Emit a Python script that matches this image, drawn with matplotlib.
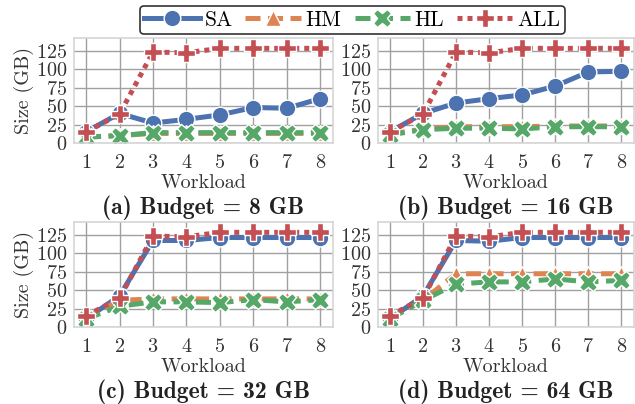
import matplotlib
matplotlib.use("Agg")
import matplotlib.pyplot as plt
import numpy as np

plt.rcParams['font.family'] = ['cmr10', 'DejaVu Serif']
plt.rcParams['axes.formatter.use_mathtext'] = True
plt.rcParams['mathtext.fontset'] = 'cm'

workloads = [1, 2, 3, 4, 5, 6, 7, 8]
series_names = ["SA", "HM", "HL", "ALL"]
panel_titles = ["(a) Budget = 8 GB", "(b) Budget = 16 GB",
                "(c) Budget = 32 GB", "(d) Budget = 64 GB"]

sa_8 = [15, 40, 27, 32, 38, 48, 47, 60]
hm_8 = [8, 10, 13, 13, 13, 13, 13, 13]
hl_8 = [8, 10, 14, 14, 14, 14, 14, 14]
all_8 = [15, 39, 123, 122, 128, 128, 128, 128]

sa_16 = [15, 40, 54, 60, 65, 77, 96, 97]
hm_16 = [12, 19, 22, 22, 22, 23, 23, 23]
hl_16 = [11, 18, 20, 20, 19, 22, 22, 22]
all_16 = [15, 39, 123, 122, 128, 128, 128, 128]

sa_32 = [11, 42, 117, 117, 121, 121, 121, 121]
hm_32 = [12, 36, 38, 38, 38, 38, 38, 38]
hl_32 = [11, 28, 34, 34, 33, 37, 34, 37]
all_32 = [15, 39, 123, 122, 128, 128, 128, 128]

sa_64 = [11, 42, 117, 116, 121, 121, 121, 121]
hm_64 = [12, 36, 72, 72, 72, 72, 72, 72]
hl_64 = [11, 36, 58, 61, 61, 65, 61, 63]
all_64 = [15, 39, 123, 122, 128, 128, 128, 128]

panels = [
    [sa_8, hm_8, hl_8, all_8],
    [sa_16, hm_16, hl_16, all_16],
    [sa_32, hm_32, hl_32, all_32],
    [sa_64, hm_64, hl_64, all_64],
]

colors = ["#4C72B0", "#DD8452", "#55A868", "#C44E52"]
styles = [
    dict(linestyle='-', marker='o', markersize=12),
    dict(linestyle=(0, (3, 1.5)), marker='^', markersize=12),
    dict(linestyle=(0, (3, 1.5)), marker='X', markersize=13),
    dict(linestyle=(0, (1, 1)), marker='P', markersize=13),
]

TICK_FS = 14.5
LABEL_FS = 14.5
TITLE_FS = 17
LEG_FS = 15.5

fig = plt.figure(figsize=(6.35, 4.04), dpi=100)
W, H = 635.0, 404.0
boxes = [
    (74, 38, 333, 143),
    (378, 38, 634, 143),
    (74, 222, 333, 327),
    (378, 222, 634, 327),
]

handles = []
for i, (x0, y0, x1, y1) in enumerate(boxes):
    ax = fig.add_axes([x0 / W, 1 - y1 / H, (x1 - x0) / W, (y1 - y0) / H])
    ax.set_facecolor('white')
    for j, vals in enumerate(panels[i]):
        ln, = ax.plot(workloads, vals, color=colors[j], linewidth=3.6,
                      markeredgecolor='white', markeredgewidth=1.0,
                      label=series_names[j], **styles[j])
        if i == 0:
            handles.append(ln)
    ax.set_xlim(0.64, 8.38)
    ax.set_ylim(0, 142)
    ax.set_xticks(workloads)
    ax.set_yticks([0, 25, 50, 75, 100, 125])
    ax.grid(True, color='#a0a0a0', linewidth=1.0)
    ax.set_axisbelow(True)
    for s in ax.spines.values():
        s.set_color('#d5d5d5')
        s.set_linewidth(1.2)
    ax.tick_params(axis='both', length=0, labelsize=TICK_FS, colors='#333333')
    ax.tick_params(axis='x', pad=8)
    ax.tick_params(axis='y', pad=5)
    hpx = float(y1 - y0)
    ax.set_xlabel("Workload", fontsize=LABEL_FS, color='#333333')
    ax.xaxis.label.set_va('baseline')
    ax.xaxis.set_label_coords(0.5, -45 / hpx)
    if i % 2 == 0:
        ax.set_ylabel("Size (GB)", fontsize=LABEL_FS, color='#333333')
        ax.yaxis.set_label_coords(-40 / float(x1 - x0), 0.5)
    ax.text(0.5, -71 / hpx, panel_titles[i], transform=ax.transAxes,
            ha='center', va='baseline', fontsize=TITLE_FS,
            family=['cmb10', 'DejaVu Serif'], color='#222222')

leg = fig.legend(handles, series_names, loc='upper center', ncol=4,
                 bbox_to_anchor=(0.555, 0.99), fontsize=LEG_FS, frameon=True,
                 handlelength=2.6, columnspacing=0.6, handletextpad=0.2,
                 borderpad=0.2, borderaxespad=0.1, fancybox=True)
leg.get_frame().set_edgecolor('black')
leg.get_frame().set_linewidth(1.2)

fig.savefig("out.png", dpi=100)
